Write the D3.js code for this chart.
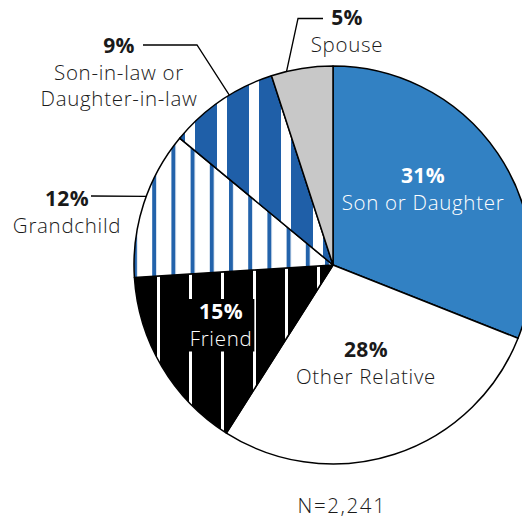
<!DOCTYPE html>
<html>
<head>
<meta charset="utf-8">
<script src="https://cdn.jsdelivr.net/npm/d3@7"></script>
<style>
  html, body { margin: 0; padding: 0; background: #fff; }
  svg { display: block; }
  text { font-family: "Open Sans", "Noto Sans", sans-serif; }
</style>
</head>
<body>
<div id="chart"></div>
<script>
// Relationship of caregiver to care recipient (share of respondents)
const categories = ["Son or Daughter", "Other Relative", "Friend", "Grandchild", "Son-in-law or Daughter-in-law", "Spouse"];
const shares = [31, 28, 15, 12, 9, 5];
const labelLines = [["Son or Daughter"], ["Other Relative"], ["Friend"], ["Grandchild"], ["Son-in-law or", "Daughter-in-law"], ["Spouse"]];
const sampleNote = "N=2,241";

const W = 522, H = 518;
const cx = 333, cy = 265, R = 199;

const svg = d3.select("#chart").append("svg")
  .attr("width", W).attr("height", H)
  .attr("viewBox", `0 0 ${W} ${H}`);

const defs = svg.append("defs");

// Wide dark-blue bands on white
const pIn = defs.append("pattern").attr("id", "pat-inlaw")
  .attr("patternUnits", "userSpaceOnUse").attr("x", 0).attr("y", 0)
  .attr("width", 32).attr("height", 10);
pIn.append("rect").attr("width", 32).attr("height", 10).attr("fill", "#1f5fa8");
pIn.append("rect").attr("x", 12).attr("width", 10).attr("height", 10).attr("fill", "#fff");

// Thin blue rules on white
const pGc = defs.append("pattern").attr("id", "pat-grand")
  .attr("patternUnits", "userSpaceOnUse").attr("x", 11.2).attr("y", 0)
  .attr("width", 19.2).attr("height", 10);
pGc.append("rect").attr("width", 19.2).attr("height", 10).attr("fill", "#fff");
pGc.append("rect").attr("x", 0).attr("width", 4).attr("height", 10).attr("fill", "#2363ab");

// Thin white rules on black
const pFr = defs.append("pattern").attr("id", "pat-friend")
  .attr("patternUnits", "userSpaceOnUse").attr("x", 16).attr("y", 0)
  .attr("width", 32).attr("height", 10);
pFr.append("rect").attr("width", 32).attr("height", 10).attr("fill", "#000");
pFr.append("rect").attr("x", 0).attr("width", 3).attr("height", 10).attr("fill", "#fff");

const fills = ["#3281c3", "#ffffff", "url(#pat-friend)", "url(#pat-grand)", "url(#pat-inlaw)", "#c8c8c8"];

const color = d3.scaleOrdinal().domain(categories).range(fills);

const pie = d3.pie().sort(null).value(d => d.value).startAngle(0).endAngle(2 * Math.PI);
const data = categories.map((c, i) => ({ category: c, value: shares[i], lines: labelLines[i] }));
const arcs = pie(data);
const arc = d3.arc().innerRadius(0).outerRadius(R);

const g = svg.append("g").attr("transform", `translate(${cx},${cy})`);

g.selectAll("path.slice").data(arcs).join("path")
  .attr("class", "slice")
  .attr("d", arc)
  .attr("fill", d => color(d.data.category))
  .attr("stroke", "#000")
  .attr("stroke-width", 1.5)
  .attr("stroke-linejoin", "round");

// Label placement: inside labels are centred at (x, y); outside labels carry a leader.
// "knockout" paints a solid block behind the label so the stripes stop around the text.
const layout = {
  "Son or Daughter": { x: 423, y: 183, fill: "#fff" },
  "Other Relative": { x: 366, y: 357, fill: "#1a1a1a" },
  "Friend": { x: 221, y: 319, fill: "#fff", knockout: "#000" },
  "Grandchild": { x: 67, y: 206, fill: "#1a1a1a", leader: [[91, 196]], leaderAngle: 290.2 },
  "Son-in-law or Daughter-in-law": { x: 119, y: 53, fill: "#1a1a1a", leader: [[143, 45], [197, 45]], leaderAngle: 328.6 },
  "Spouse": { x: 347, y: 25, fill: "#1a1a1a", leader: [[323, 18.5], [298, 18.5]], leaderAngle: 346.5 }
};

const lineGap = 26.5;
const labelLayer = svg.append("g");

arcs.forEach(a => {
  const L = layout[a.data.category];
  const grp = labelLayer.append("g");
  const t = grp.append("text")
    .attr("text-anchor", "middle")
    .attr("fill", L.fill);
  t.append("tspan")
    .attr("x", L.x).attr("y", L.y)
    .attr("font-size", 21).attr("font-weight", 700)
    .attr("letter-spacing", 0.4)
    .text(`${a.data.value}%`);
  a.data.lines.forEach((ln, k) => {
    t.append("tspan")
      .attr("x", L.x).attr("y", L.y + lineGap * (k + 1))
      .attr("font-size", 20.5).attr("font-weight", 300)
      .attr("letter-spacing", 0.7)
      .text(ln);
  });
  if (L.knockout) {
    const bb = t.node().getBBox();
    grp.insert("rect", "text")
      .attr("x", bb.x - 2).attr("y", bb.y + 2)
      .attr("width", bb.width + 4).attr("height", bb.height - 2)
      .attr("fill", L.knockout);
  }
  if (L.leader) {
    const ang = L.leaderAngle * Math.PI / 180;
    const end = [cx + R * Math.sin(ang), cy - R * Math.cos(ang)];
    grp.append("path")
      .attr("d", d3.line()([...L.leader, end]))
      .attr("fill", "none")
      .attr("stroke", "#000")
      .attr("stroke-width", 1.3);
  }
});

svg.append("text")
  .attr("x", 342).attr("y", 513)
  .attr("text-anchor", "middle")
  .attr("font-size", 20.5).attr("font-weight", 300)
  .attr("letter-spacing", 1.6)
  .attr("fill", "#1a1a1a")
  .text(sampleNote);
</script>
</body>
</html>
